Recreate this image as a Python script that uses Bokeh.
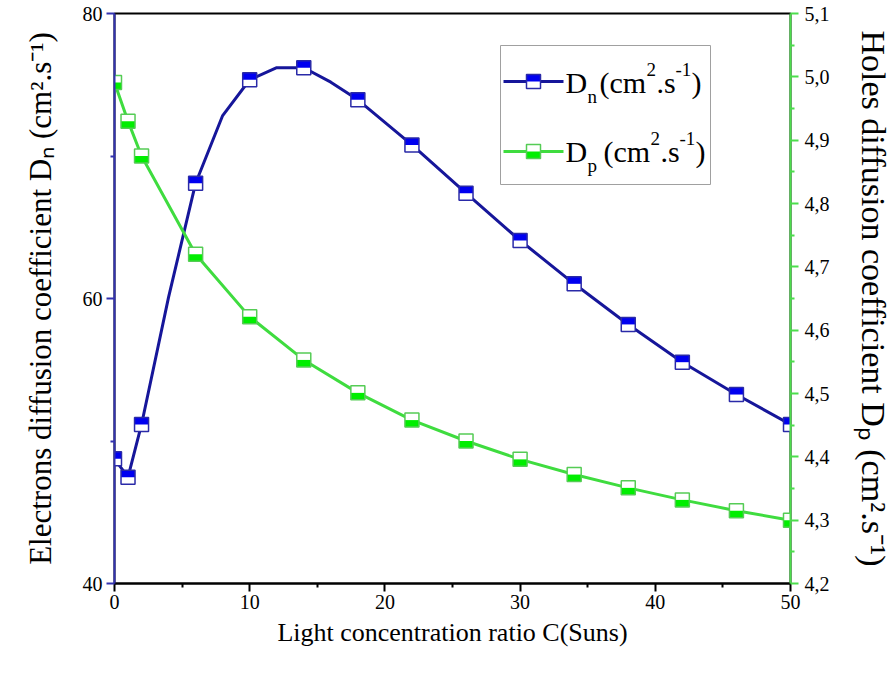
from bokeh.plotting import figure
from bokeh.models import (Range1d, LinearAxis, Label, BoxAnnotation, ColumnDataSource,
                          FixedTicker, CustomJSTickFormatter)
from bokeh.transform import dodge
from bokeh.embed import file_html
from bokeh.resources import INLINE

# ---------------- data ----------------
C_markers = [0, 1, 2, 6, 10, 14, 18, 22, 26, 30, 34, 38, 42, 46, 50]
Dn_markers = [48.75, 47.46, 51.16, 68.09, 75.35, 76.19, 73.94, 70.78, 67.39,
              64.07, 61.03, 58.18, 55.53, 53.26, 51.16]
C_dn_line = [0, 1, 2, 4, 6, 8, 10, 12, 14, 16, 18, 22, 26, 30, 34, 38, 42, 46, 50]
Dn_line = [48.75, 47.46, 51.16, 60.1, 68.09, 72.84, 75.35, 76.2, 76.19, 75.18,
           73.94, 70.78, 67.39, 64.07, 61.03, 58.18, 55.53, 53.26, 51.16]
Dp_markers = [4.991, 4.930, 4.875, 4.720, 4.621, 4.553, 4.501, 4.458, 4.425,
              4.396, 4.372, 4.351, 4.332, 4.315, 4.300]

x_ticks = [0, 10, 20, 30, 40, 50]
x_minor = [5, 15, 25, 35, 45]
left_ticks = [40, 60, 80]
left_minor = [50, 70]
right_ticks = [4.2, 4.3, 4.4, 4.5, 4.6, 4.7, 4.8, 4.9, 5.0, 5.1]
right_minor = [4.25, 4.35, 4.45, 4.55, 4.65, 4.75, 4.85, 4.95, 5.05]

x_title = "Light concentration ratio C(Suns)"
left_title = "Electrons diffusion coefficient D\u2099 (cm\u00b2.s\u207b\u00b9)"
right_title = "Holes diffusion coefficient D\u209a (cm\u00b2.s\u207b\u00b9)"

# ---------------- styling ----------------
W, H = 896, 677
FL, FR, FT, FB = 114, 790, 13, 583        # frame edges (canvas px)
FONT = "Liberation Serif"
BLUE_LINE = "#16169a"
BLUE_FILL = "#0000f0"
BLUE_EDGE = "#2a2aa8"
BLUE_AXIS = "#3232b0"
GREEN_LINE = "#3fdc3f"
GREEN_FILL = "#00ee00"
GREEN_EDGE = "#55cc55"
GREEN_AXIS = "#4ddd4d"
MS = 14  # marker size px

p = figure(width=W, height=H, output_backend="svg", toolbar_location=None,
           x_range=Range1d(0, 50), y_range=Range1d(40, 80),
           min_border_left=FL, min_border_right=W - FR,
           min_border_top=FT, min_border_bottom=H - FB)
p.extra_y_ranges = {"dp": Range1d(4.2, 5.1)}
p.xgrid.visible = False
p.ygrid.visible = False
p.outline_line_color = "black"
p.outline_line_width = 2
p.background_fill_color = "white"
p.border_fill_color = "white"

# px per data unit (for half-marker offsets)
left_ppu = (FB - FT) / (80 - 40)
right_ppu = (FB - FT) / (5.1 - 4.2)

src_line = ColumnDataSource(dict(c=C_dn_line, dn=Dn_line))
src_m = ColumnDataSource(dict(c=C_markers, dn=Dn_markers, dp=Dp_markers))

# Dn curve
p.line("c", "dn", source=src_line, line_color=BLUE_LINE, line_width=3)
p.scatter("c", "dn", source=src_m, marker="square", size=MS, fill_color="white", line_color=None)
p.rect("c", dodge("dn", (MS / 4) / left_ppu), source=src_m, width=MS, height=MS / 2,
       width_units="screen", height_units="screen", fill_color=BLUE_FILL, line_color=None)
p.scatter("c", "dn", source=src_m, marker="square", size=MS, fill_color=None,
          line_color=BLUE_EDGE, line_width=1.5)

# Dp curve
p.line("c", "dp", source=src_m, y_range_name="dp", line_color=GREEN_LINE, line_width=3)
p.scatter("c", "dp", source=src_m, y_range_name="dp", marker="square", size=MS,
          fill_color="white", line_color=None)
p.rect("c", dodge("dp", -(MS / 4) / right_ppu), source=src_m, y_range_name="dp",
       width=MS, height=MS / 2, width_units="screen", height_units="screen",
       fill_color=GREEN_FILL, line_color=None)
p.scatter("c", "dp", source=src_m, y_range_name="dp", marker="square", size=MS,
          fill_color=None, line_color=GREEN_EDGE, line_width=1.5)

# ---------------- axes ----------------
def style_axis(ax, color, label_color="black"):
    ax.axis_line_color = color
    ax.axis_line_width = 2
    ax.major_tick_line_color = color
    ax.minor_tick_line_color = color
    ax.major_tick_line_width = 2
    ax.minor_tick_line_width = 2
    ax.major_tick_out = 8
    ax.major_tick_in = 0
    ax.minor_tick_out = 4
    ax.minor_tick_in = 0
    ax.major_label_text_font = FONT
    ax.major_label_text_font_size = "20px"
    ax.major_label_text_color = label_color
    ax.axis_label_text_font = FONT
    ax.axis_label_text_font_style = "normal"
    ax.axis_label_text_color = "black"

xa = p.xaxis[0]
style_axis(xa, "black")
xa.ticker = FixedTicker(ticks=x_ticks, minor_ticks=x_minor)
xa.axis_label = x_title
xa.axis_label_text_font_size = "26px"
xa.major_label_standoff = 3
xa.axis_label_standoff = 6

ya = p.yaxis[0]
style_axis(ya, BLUE_AXIS)
ya.ticker = FixedTicker(ticks=left_ticks, minor_ticks=left_minor)
ya.axis_label = left_title
ya.axis_label_text_font_size = "31px"
ya.major_label_standoff = 4
ya.axis_label_standoff = 22

ra = LinearAxis(y_range_name="dp")
style_axis(ra, GREEN_AXIS)
ra.ticker = FixedTicker(ticks=right_ticks, minor_ticks=right_minor)
ra.formatter = CustomJSTickFormatter(code="return tick.toFixed(1).replace('.', ',');")
ra.axis_label = right_title
ra.axis_label_text_font_size = "34px"
ra.major_label_standoff = 6
ra.axis_label_standoff = 22
p.add_layout(ra, "right")

# ---------------- legend (drawn by hand, canvas px) ----------------
def box(l, r, t, b, fill=None, line=None, lw=1):
    p.add_layout(BoxAnnotation(left=l, right=r, top=t, bottom=b,
                               left_units="canvas", right_units="canvas",
                               top_units="canvas", bottom_units="canvas",
                               fill_color=fill if fill else "white",
                               fill_alpha=1 if fill else 0,
                               line_color=line, line_alpha=1 if line else 0,
                               line_width=lw, level="overlay"))

def txt(x, y, s, size):
    p.add_layout(Label(x=x, y=y, x_units="canvas", y_units="canvas", text=s,
                       text_font=FONT, text_font_size=size, text_color="black",
                       text_align="left", text_baseline="alphabetic", level="overlay"))

box(500, 710, 45, 184, fill="white", line="#a0a0a0", lw=1)

BASE_FIX = -10  # label baseline correction

def legend_entry(cy, base, line_col, fill_col, edge_col, top_fill, sub, pieces_x):
    box(503, 563, cy - 1.5, cy + 1.5, fill=line_col)
    mx = 533
    box(mx - MS / 2, mx + MS / 2, cy - MS / 2, cy + MS / 2, fill="white")
    if top_fill:
        box(mx - MS / 2, mx + MS / 2, cy - MS / 2, cy, fill=fill_col)
    else:
        box(mx - MS / 2, mx + MS / 2, cy, cy + MS / 2, fill=fill_col)
    box(mx - MS / 2, mx + MS / 2, cy - MS / 2, cy + MS / 2, line=edge_col, lw=1.5)
    b = base + BASE_FIX
    xD, xs, xp, x2, xds, xm1, xr = pieces_x
    txt(xD, b, "D", "30px")
    txt(xs, b + 14, sub, "19px")
    txt(xp, b, "(cm", "30px")
    txt(x2, b - 13, "2", "19px")
    txt(xds, b, ".s", "30px")
    txt(xm1, b - 13, "-1", "19px")
    txt(xr, b, ")", "30px")

legend_entry(81, 92, BLUE_LINE, BLUE_FILL, BLUE_EDGE, True, "n",
             (565, 587, 599, 646, 656, 675, 691))
legend_entry(151, 161, GREEN_LINE, GREEN_FILL, GREEN_EDGE, False, "p",
             (565, 587, 603, 650, 660, 679, 695))

open("out.html", "w").write(file_html(p, INLINE))
